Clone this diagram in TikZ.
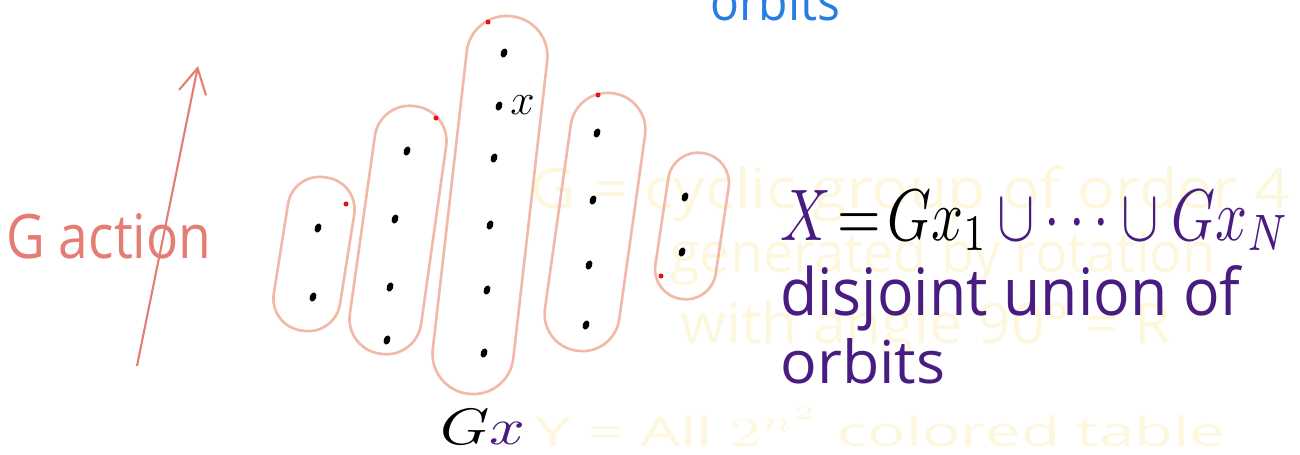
\documentclass[tikz,border=0pt]{standalone}
\usepackage{fontspec}
\usepackage{graphicx}
\setmainfont{Open Sans}
\usetikzlibrary{arrows.meta,shapes.geometric}
\definecolor{loopc}{RGB}{242,185,168}
\definecolor{redc}{RGB}{228,125,115}
\definecolor{pur}{RGB}{72,28,128}
\definecolor{bluec}{RGB}{40,125,228}
\definecolor{ghost}{RGB}{253,247,222}
\definecolor{markc}{RGB}{228,20,20}
\tikzset{
  orbitloop/.style={draw=loopc, line width=1.5pt, rectangle, inner sep=0pt},
  pt/.style={ellipse, fill=black, inner sep=0pt, minimum width=0.13cm, minimum height=0.19cm, rotate=-20},
  redmark/.style={circle, fill=markc, inner sep=0pt, minimum size=0.1cm},
  ghosttext/.style={text=ghost, inner sep=0pt, anchor=base west},
  lbl/.style={inner sep=0pt, anchor=base west},
}
\begin{document}
\begin{tikzpicture}[x=0.02cm,y=-0.02cm]
\useasboundingbox (0,0) rectangle (1300,454);
\clip (0,0) rectangle (1300,454);
% faint erased text
\node[ghosttext] (g1) at (530,208) {\resizebox{15.2cm}{0.85cm}{G = cyclic group of order 4}};
\node[ghosttext] (g2) at (670,272) {\resizebox{10.9cm}{0.85cm}{generated by rotation}};
\node[ghosttext] (g3) at (680,343) {\resizebox{9.8cm}{0.85cm}{with angle 90° = R}};
\node[ghosttext] (g4) at (535,446) {\resizebox{13.8cm}{0.8cm}{Y = All $2^{n^2}$ colored table}};
% orbits (loops)
\node[orbitloop, minimum width=1.34cm, minimum height=3.1cm, rounded corners=0.64cm, rotate=-9] (o1) at (314,254) {};
\node[orbitloop, minimum width=1.44cm, minimum height=5.0cm, rounded corners=0.7cm, rotate=-8] (o2) at (398,230) {};
\node[orbitloop, minimum width=1.62cm, minimum height=7.6cm, rounded corners=0.8cm, rotate=-6.5] (o3) at (490,205) {};
\node[orbitloop, minimum width=1.5cm, minimum height=5.2cm, rounded corners=0.74cm, rotate=-8] (o4) at (595,222) {};
\node[orbitloop, minimum width=1.22cm, minimum height=2.95cm, rounded corners=0.6cm, rotate=-8.5] (o5) at (692,226) {};
% red pen marks
\node[redmark] (m1) at (346,204) {};
\node[redmark] (m2) at (436,118) {};
\node[redmark] (m3) at (488,22) {};
\node[redmark] (m4) at (598,95) {};
\node[redmark] (m5) at (661,276) {};
% points
\node[pt] (a1) at (318,228) {};
\node[pt] (a2) at (313,297) {};
\node[pt] (b1) at (407,151) {};
\node[pt] (b2) at (395,219) {};
\node[pt] (b3) at (390,287) {};
\node[pt] (b4) at (387,340) {};
\node[pt] (c1) at (504,53) {};
\node[pt] (c2) at (499,106) {};
\node[pt] (c3) at (494,158) {};
\node[pt] (c4) at (490,225) {};
\node[pt] (c5) at (487,290) {};
\node[pt] (c6) at (484,353) {};
\node[pt] (d1) at (597,133) {};
\node[pt] (d2) at (593,200) {};
\node[pt] (d3) at (589,265) {};
\node[pt] (d4) at (586,325) {};
\node[pt] (e1) at (685,197) {};
\node[pt] (e2) at (682,252) {};
% G action arrow
\coordinate (ab) at (137,366);
\coordinate (at) at (198,66);
\draw[redc, line width=1.2pt, -{Straight Barb[length=0.5cm, width=0.55cm]}] (ab) -- (at);
% labels
\node[lbl, text=redc] (gact) at (6,258) {\resizebox{4.1cm}{0.9cm}{G action}};
\node[lbl] (xl) at (510,114) {\fontsize{30}{30}\selectfont$x$};
\node[lbl] (gx) at (440,444) {\resizebox{1.7cm}{0.7cm}{$G{\color{pur}x}$}};
\node[lbl, text=bluec] (orbtop) at (710,20) {\resizebox{2.6cm}{0.8cm}{orbits}};
\node[lbl] (eq) at (780,240) {\resizebox{10.2cm}{1.0cm}{${\color{pur}X}\!=\!G x_1\,{\color{pur}\cup\cdots\cup G x_N}$}};
\node[lbl, text=pur] (dis) at (780,315) {\resizebox{9.2cm}{1.0cm}{disjoint union of}};
\node[lbl, text=pur] (orb) at (780,383) {\resizebox{3.3cm}{0.9cm}{orbits}};
\end{tikzpicture}
\end{document}
